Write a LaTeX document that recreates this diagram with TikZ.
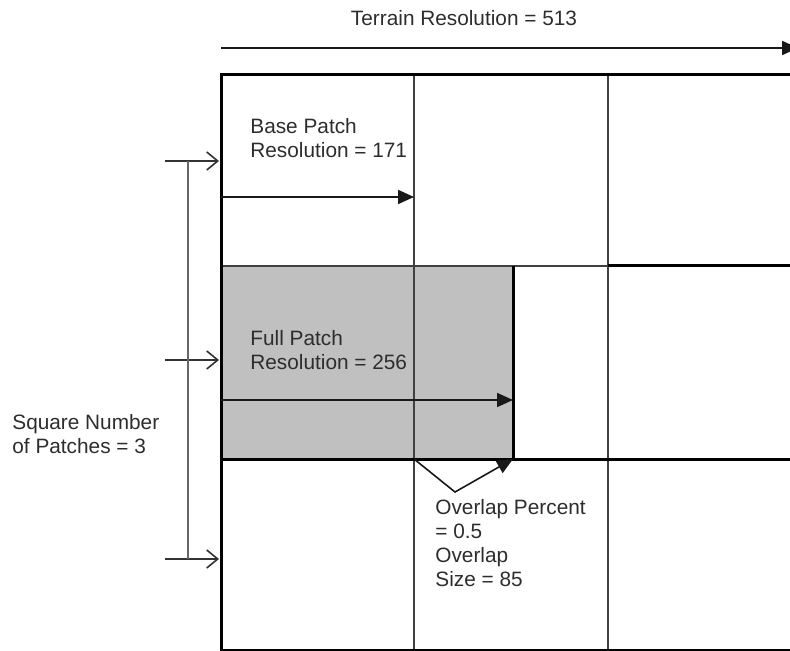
\documentclass[tikz,border=0pt]{standalone}
\usepackage{fontspec}
\setmainfont{Liberation Sans}
\usetikzlibrary{arrows.meta}
\definecolor{ink}{RGB}{45,45,45}
\definecolor{patchgrey}{RGB}{192,192,192}
\tikzset{
  heavy/.style={draw=black,line width=1.5pt},
  light/.style={draw=black!75,line width=0.75pt},
  span arrow/.style={-{Triangle[length=8pt,width=7pt]},line width=0.9pt,draw=black!90},
  row arrow/.style={-{Straight Barb[length=5.5pt,width=9pt]},line width=0.8pt,draw=black!80},
  note/.style={font=\fontsize{10.4}{12}\selectfont,text=ink,align=left,inner sep=0pt},
}

\begin{document}
\begin{tikzpicture}[x=0.5pt,y=-0.5pt]
  \useasboundingbox (0,0) rectangle (790,651);
  % grid corners and lines
  \coordinate (tl) at (221,75);  \coordinate (tr) at (795,75);
  \coordinate (bl) at (221,650); \coordinate (br) at (795,650);
  \coordinate (c1t) at (414,75); \coordinate (c1b) at (414,650);
  \coordinate (c2t) at (608,75); \coordinate (c2b) at (608,650);
  \coordinate (r1l) at (221,266); \coordinate (r1m) at (608,266); \coordinate (r1r) at (795,266);
  \coordinate (r2l) at (221,459); \coordinate (r2m) at (414,459); \coordinate (r2r) at (795,459);
  \coordinate (fpt) at (513,266); \coordinate (fpb) at (513,459);

  \fill[patchgrey] (r1l) rectangle (fpb);
  \draw[light] (c1t) -- (c1b) (c2t) -- (c2b) (r1l) -- (r1m);
  \draw[heavy] (tr) -- (tl) -- (bl) -- (br) (r1m) -- (r1r) (r2l) -- (r2r) (fpt) -- (fpb);

  % resolutions
  \node[note] (terrain) at (464,18) {Terrain Resolution = 513};
  \coordinate (ts) at (221,48); \coordinate (te) at (798,48);
  \draw[span arrow,line width=1.1pt] (ts) -- (te);

  \node[note,anchor=west] (base) at (250,138) {Base Patch\\Resolution = 171};
  \coordinate (bs) at (221,197); \coordinate (be) at (414,197);
  \draw[span arrow] (bs) -- (be);

  \node[note,anchor=west] (full) at (250,350) {Full Patch\\Resolution = 256};
  \coordinate (fs) at (221,400); \coordinate (fe) at (513,400);
  \draw[span arrow] (fs) -- (fe);

  \node[note,anchor=west] (overlap) at (435,543) {Overlap Percent\\= 0.5\\Overlap\\Size = 85};
  \coordinate (ov) at (455,492);
  \draw[span arrow,line width=0.8pt] (r2m) -- (ov) -- (fpb);

  % patch count
  \node[note,anchor=west] (count) at (12,434) {Square Number\\of Patches = 3};
  \foreach \y/\n in {161/a,360/b,559/c}{
    \coordinate (p\n) at (165,\y); \coordinate (q\n) at (219,\y);
    \draw[row arrow] (p\n) -- (q\n);
  }
  \coordinate (va) at (188,161); \coordinate (vc) at (188,559);
  \draw[draw=black!60,line width=0.8pt] (va) -- (vc);
\end{tikzpicture}
\end{document}
